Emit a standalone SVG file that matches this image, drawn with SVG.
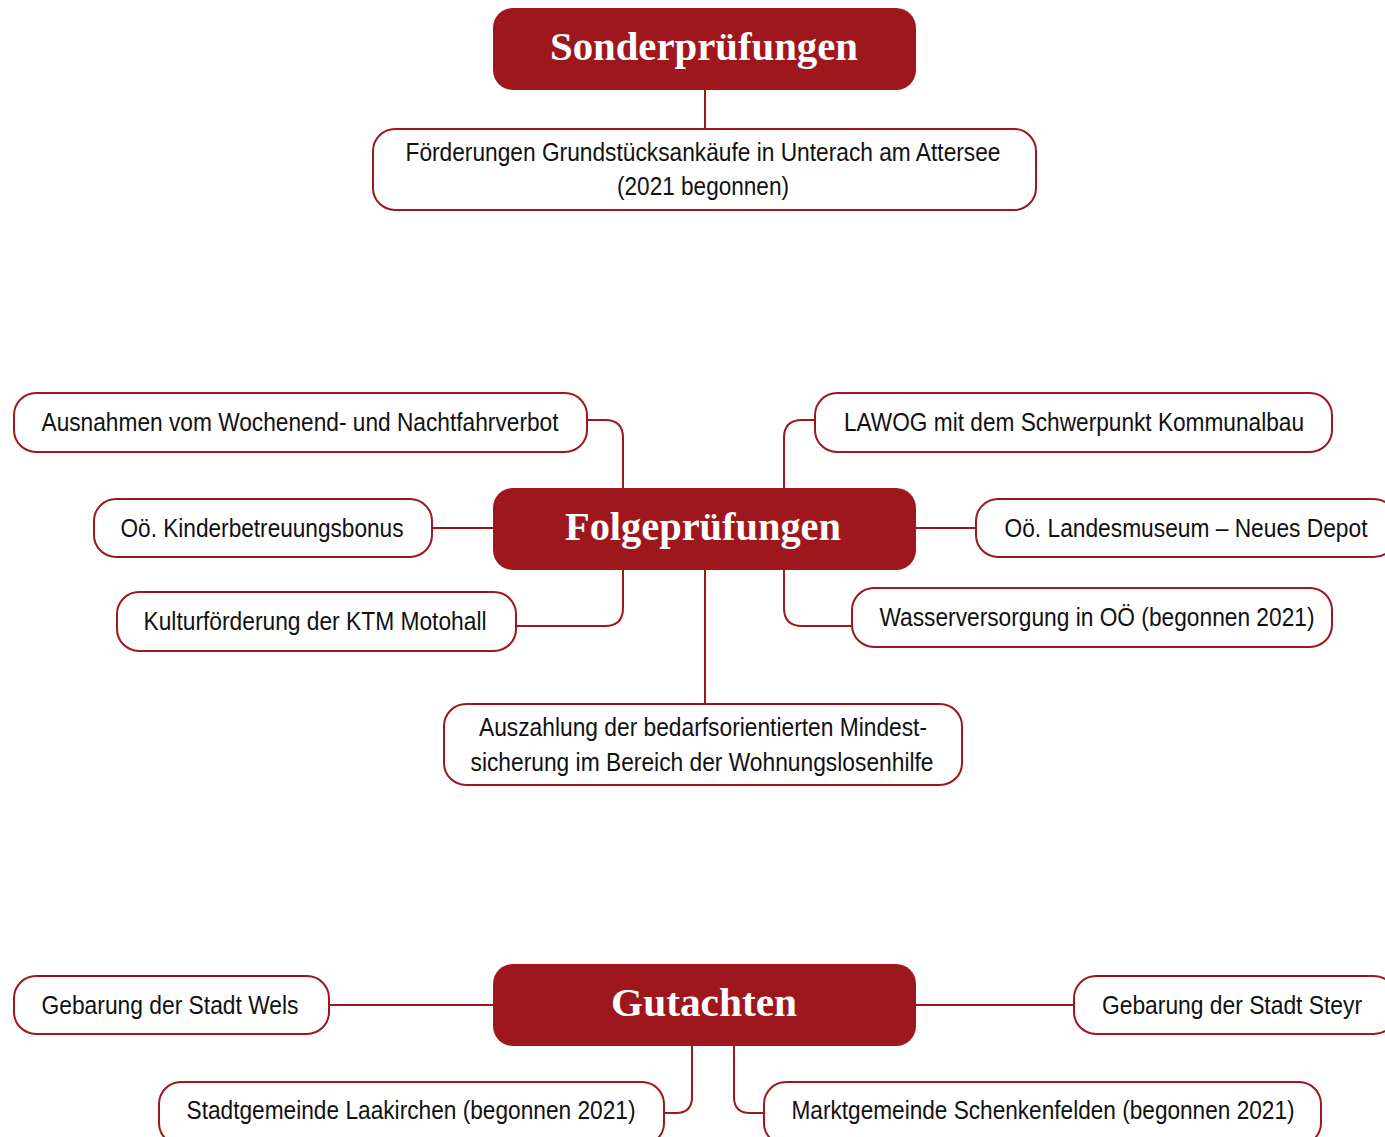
<svg xmlns="http://www.w3.org/2000/svg" width="1385" height="1137" viewBox="0 0 1385 1137">
<style>
.hub{fill:#9e171c;stroke:none}
.hubt{font-family:"Liberation Serif","DejaVu Serif",serif;font-weight:bold;font-size:40px;fill:#fff;text-anchor:middle}
.leaf{fill:#fff;stroke:#9e171c;stroke-width:2}
.lt{font-family:"Liberation Sans Narrow","Liberation Sans","Arial",sans-serif;font-size:25px;fill:#111;text-anchor:middle}
.c{fill:none;stroke:#9e171c;stroke-width:2}
</style>
<rect width="1385" height="1137" fill="#fff"/>
<g id="connectors">
<path class="c" d="M705 90V129"/>
<path class="c" d="M587 420H605Q623 420 623 438V488"/>
<path class="c" d="M432 528H493"/>
<path class="c" d="M516 626H605Q623 626 623 608V570"/>
<path class="c" d="M815 420H802Q784 420 784 438V488"/>
<path class="c" d="M916 528H976"/>
<path class="c" d="M784 570V608Q784 626 802 626H852"/>
<path class="c" d="M705 570V704"/>
<path class="c" d="M329 1005H493"/>
<path class="c" d="M916 1005H1074"/>
<path class="c" d="M664 1113H676Q692 1113 692 1097V1046"/>
<path class="c" d="M734 1046V1097Q734 1113 750 1113H764"/>
</g>
<g id="sonder">
<rect class="hub" x="493" y="8" width="423" height="82" rx="20"/>
<text class="hubt" x="704" y="60" textLength="308" lengthAdjust="spacingAndGlyphs">Sonderprüfungen</text>
</g>
<g id="foerderungen">
<rect class="leaf" x="373" y="129" width="663" height="81" rx="22"/>
<text class="lt" x="703" y="161" textLength="595" lengthAdjust="spacingAndGlyphs">Förderungen Grundstücksankäufe in Unterach am Attersee</text>
<text class="lt" x="703" y="195" textLength="172" lengthAdjust="spacingAndGlyphs">(2021 begonnen)</text>
</g>
<g id="folge">
<rect class="hub" x="493" y="488" width="423" height="82" rx="20"/>
<text class="hubt" x="703" y="540" textLength="276" lengthAdjust="spacingAndGlyphs">Folgeprüfungen</text>
</g>
<g id="ausnahmen">
<rect class="leaf" x="14" y="393" width="573" height="59" rx="22"/>
<text class="lt" x="300" y="431" textLength="517" lengthAdjust="spacingAndGlyphs">Ausnahmen vom Wochenend- und Nachtfahrverbot</text>
</g>
<g id="kinder">
<rect class="leaf" x="94" y="499" width="338" height="58" rx="22"/>
<text class="lt" x="262" y="537" textLength="283" lengthAdjust="spacingAndGlyphs">Oö. Kinderbetreuungsbonus</text>
</g>
<g id="ktm">
<rect class="leaf" x="117" y="592" width="399" height="59" rx="22"/>
<text class="lt" x="315" y="630" textLength="343" lengthAdjust="spacingAndGlyphs">Kulturförderung der KTM Motohall</text>
</g>
<g id="lawog">
<rect class="leaf" x="815" y="393" width="517" height="59" rx="22"/>
<text class="lt" x="1074" y="431" textLength="460" lengthAdjust="spacingAndGlyphs">LAWOG mit dem Schwerpunkt Kommunalbau</text>
</g>
<g id="museum">
<rect class="leaf" x="976" y="499" width="420" height="58" rx="22"/>
<text class="lt" x="1186" y="537" textLength="363" lengthAdjust="spacingAndGlyphs">Oö. Landesmuseum – Neues Depot</text>
</g>
<g id="wasser">
<rect class="leaf" x="852" y="588" width="480" height="59" rx="22"/>
<text class="lt" x="1097" y="626" textLength="435" lengthAdjust="spacingAndGlyphs">Wasserversorgung in OÖ (begonnen 2021)</text>
</g>
<g id="auszahlung">
<rect class="leaf" x="444" y="704" width="518" height="81" rx="22"/>
<text class="lt" x="703" y="736" textLength="448" lengthAdjust="spacingAndGlyphs">Auszahlung der bedarfsorientierten Mindest-</text>
<text class="lt" x="702" y="771" textLength="463" lengthAdjust="spacingAndGlyphs">sicherung im Bereich der Wohnungslosenhilfe</text>
</g>
<g id="gutachten">
<rect class="hub" x="493" y="964" width="423" height="82" rx="20"/>
<text class="hubt" x="704" y="1016" textLength="186" lengthAdjust="spacingAndGlyphs">Gutachten</text>
</g>
<g id="wels">
<rect class="leaf" x="14" y="976" width="315" height="58" rx="22"/>
<text class="lt" x="170" y="1014" textLength="257" lengthAdjust="spacingAndGlyphs">Gebarung der Stadt Wels</text>
</g>
<g id="steyr">
<rect class="leaf" x="1074" y="976" width="322" height="58" rx="22"/>
<text class="lt" x="1232" y="1014" textLength="260" lengthAdjust="spacingAndGlyphs">Gebarung der Stadt Steyr</text>
</g>
<g id="laakirchen">
<rect class="leaf" x="159" y="1082" width="505" height="63" rx="22"/>
<text class="lt" x="411" y="1119" textLength="449" lengthAdjust="spacingAndGlyphs">Stadtgemeinde Laakirchen (begonnen 2021)</text>
</g>
<g id="schenkenfelden">
<rect class="leaf" x="764" y="1082" width="557" height="63" rx="22"/>
<text class="lt" x="1043" y="1119" textLength="503" lengthAdjust="spacingAndGlyphs">Marktgemeinde Schenkenfelden (begonnen 2021)</text>
</g>
</svg>
